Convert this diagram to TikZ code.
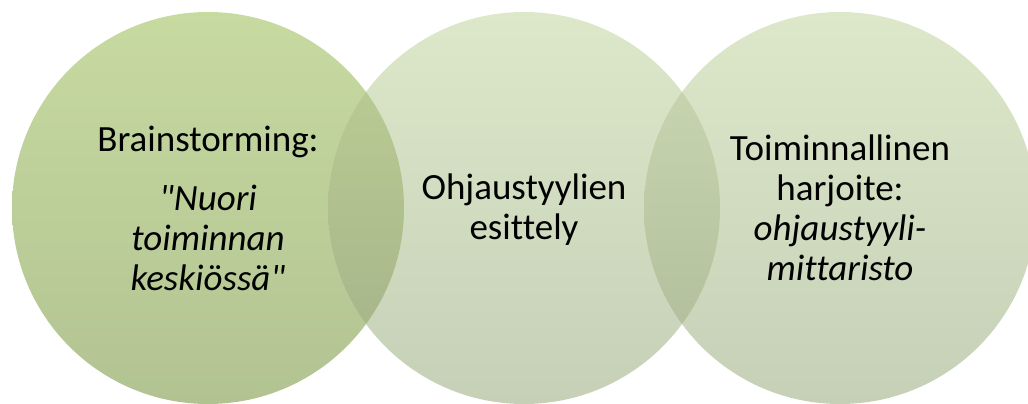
\documentclass[tikz,border=0pt]{standalone}
\usepackage{fontspec}
\setmainfont{Carlito}[Ligatures={TeXOff,NoCommon}]
\definecolor{aT}{RGB}{199,218,160}
\definecolor{aB}{RGB}{178,195,146}
\definecolor{bT}{RGB}{221,231,201}
\definecolor{bB}{RGB}{198,208,183}
\definecolor{abT}{RGB}{190,208,150}
\definecolor{abB}{RGB}{162,177,136}
\definecolor{bcT}{RGB}{204,218,180}
\definecolor{bcB}{RGB}{172,186,152}
\tikzset{
  lbl/.style={align=center, font=\fontsize{37}{40}\selectfont, text=black, inner sep=0pt}
}
\begin{document}
\begin{tikzpicture}[x=1pt,y=-1pt]
\useasboundingbox (0,0) rectangle (1028,404);
% circles
\shade[top color=aT, bottom color=aB] (208,208) circle (196);
\shade[top color=bT, bottom color=bB] (524,208) circle (196);
\shade[top color=bT, bottom color=bB] (840,208) circle (196);
% overlaps
\begin{scope}
  \clip (208,208) circle (196);
  \shade[top color=abT, bottom color=abB] (524,208) circle (196);
\end{scope}
\begin{scope}
  \clip (524,208) circle (196);
  \shade[top color=bcT, bottom color=bcB] (840,208) circle (196);
\end{scope}
% labels
\node[lbl] (t1) at (208,208) {Brainstorming:\\[19pt]\itshape "Nuori\\\itshape toiminnan\\\itshape keskiössä"};
\node[lbl] (t2) at (524,210) {Ohjaustyylien\\esittely};
\node[lbl] (t3) at (840,208) {Toiminnallinen\\harjoite:\\\itshape ohjaustyyli-\\\itshape mittaristo};
\end{tikzpicture}
\end{document}
